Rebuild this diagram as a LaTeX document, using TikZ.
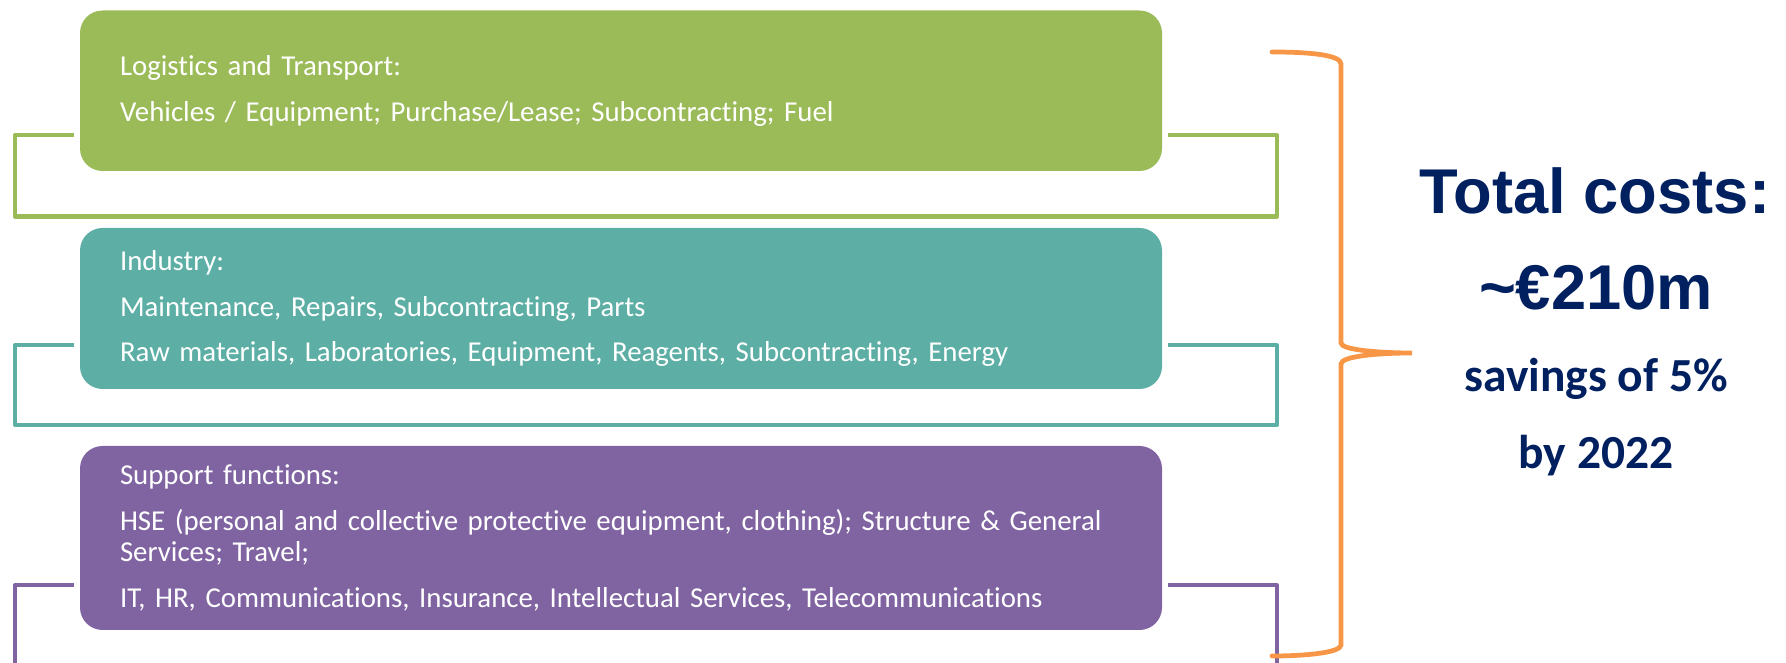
\documentclass[tikz,border=0pt]{standalone}
\usepackage{fontspec}
\setmainfont{Carlito}[Ligatures=NoCommon]
\newfontfamily\arialfont{Liberation Sans}
\definecolor{logigreen}{HTML}{9BBB59}
\definecolor{indteal}{HTML}{5DAFA6}
\definecolor{supppurple}{HTML}{8064A2}
\definecolor{braceorange}{HTML}{F79646}
\definecolor{costnavy}{HTML}{002060}
\frenchspacing

\begin{document}
\begin{tikzpicture}[
  box/.style={rounded corners=0.45cm, text=white, align=left, anchor=center,
    minimum width=21.64cm, text width=20.04cm, inner xsep=0.8cm,
    font=\fontsize{16.4}{17.6}\selectfont},
  loop/.style={line width=2.3pt, line join=round}
]
\useasboundingbox (0,0) rectangle (35.72,13.26);

%%%%%%%%%%
% Category boxes
%%%%%%%%%%
\node[box, fill=logigreen, minimum height=3.21cm] (logi) at (12.42,11.445)
  {Logistics and Transport:\\[8.4pt]
   Vehicles / Equipment; Purchase/Lease; Subcontracting; Fuel};
\node[box, fill=indteal, minimum height=3.22cm] (ind) at (12.42,7.09)
  {Industry:\\[8.4pt]
   Maintenance, Repairs, Subcontracting, Parts\\[8.4pt]
   Raw materials, Laboratories, Equipment, Reagents, Subcontracting, Energy};
\node[box, fill=supppurple, minimum height=3.68cm] (supp) at (12.42,2.50)
  {Support functions:\\[8.4pt]
   HSE (personal and collective protective equipment, clothing); Structure \& General\\
   Services; Travel;\\[8.4pt]
   IT, HR, Communications, Insurance, Intellectual Services, Telecommunications};

%%%%%%%%%%
% Loops round the boxes
%%%%%%%%%%
\draw[loop, logigreen] ([xshift=-0.12cm,yshift=0.72cm]logi.south west) -| (0.3,8.93)
  -- (25.54,8.93) |- ([xshift=0.12cm,yshift=0.72cm]logi.south east);
\draw[loop, indteal] ([xshift=-0.12cm,yshift=0.88cm]ind.south west) -| (0.3,4.76)
  -- (25.54,4.76) |- ([xshift=0.12cm,yshift=0.88cm]ind.south east);
\draw[loop, supppurple] ([xshift=-0.12cm,yshift=0.9cm]supp.south west) -| (0.3,-0.1);
\draw[loop, supppurple] ([xshift=0.12cm,yshift=0.9cm]supp.south east) -| (25.54,-0.1);

% Brace
\draw[braceorange, line width=2.7pt, line cap=round]
  (25.44,12.22) .. controls (26.2,12.22) and (26.82,12.16) .. (26.82,11.98)
  -- (26.82,6.40) .. controls (26.82,6.26) and (27.6,6.20) .. (28.24,6.20)
  .. controls (27.6,6.20) and (26.82,6.14) .. (26.82,5.98)
  -- (26.82,0.36) .. controls (26.82,0.22) and (26.2,0.14) .. (25.44,0.14);

%%%%%%%%%%
% Total
%%%%%%%%%%
\node[text=costnavy, font=\arialfont\bfseries\fontsize{36}{40}\selectfont] (total) at (31.9,9.44) {Total costs:};
\node[text=costnavy, font=\arialfont\bfseries\fontsize{36}{40}\selectfont] (amount) at (31.92,7.5) {\textasciitilde€210m};
\node[text=costnavy, font=\bfseries\fontsize{27}{30}\selectfont] (saving) at (31.92,5.68) {savings of 5\%};
\node[text=costnavy, font=\bfseries\fontsize{27}{30}\selectfont] (year) at (31.92,4.14) {by 2022};

\end{tikzpicture}
\end{document}
